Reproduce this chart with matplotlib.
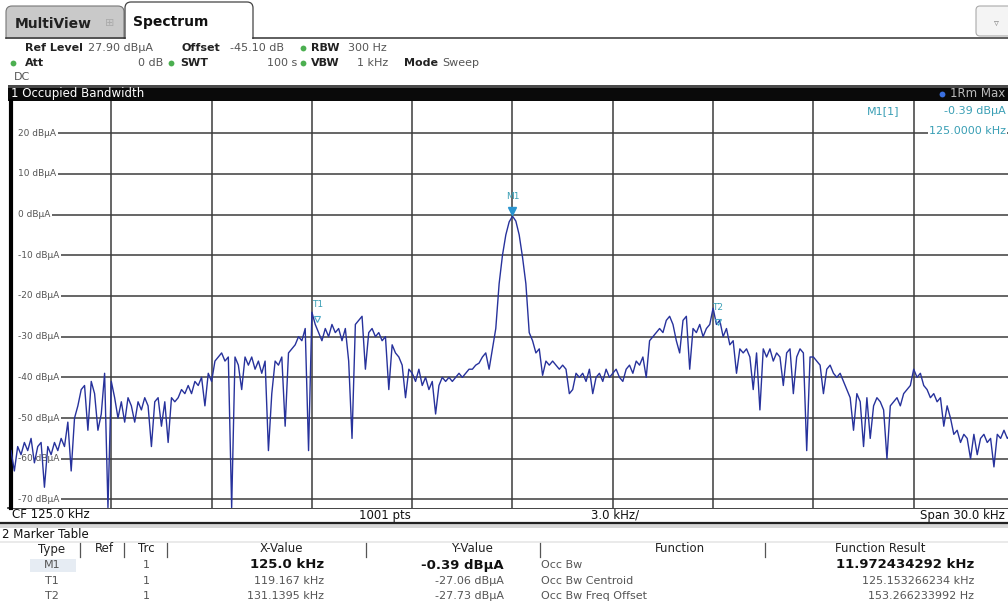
import numpy as np
import matplotlib
matplotlib.use("Agg")
import matplotlib.pyplot as plt
from matplotlib.patches import Rectangle, FancyBboxPatch
import matplotlib.transforms as mtransforms

# ---------------- data ----------------
center_khz = 125.0
span_khz = 30.0
ref_level = 27.90
n_divs = 10
y_ticks = [20, 10, 0, -10, -20, -30, -40, -50, -60, -70]

trace_dbua = [
    -58, -63, -57, -59, -56, -58, -55, -61, -57, -56,
    -67, -57, -59, -56, -58, -55, -57, -51, -63, -50,
    -47, -43, -42, -53, -41, -44, -53, -49, -39, -72,
    -41, -45, -50, -46, -51, -45, -47, -51, -46, -48,
    -45, -47, -57, -46, -45, -52, -46, -56, -45, -46,
    -45, -43, -44, -42, -44, -41, -42, -40, -47, -39,
    -41, -36, -35, -34, -36, -35, -72, -35, -37, -43,
    -35, -37, -35, -38, -36, -39, -36, -58, -44, -36,
    -37, -35, -52, -34, -33, -32, -30, -31, -28, -58,
    -24, -27, -29, -31, -28, -30, -27, -29, -28, -31,
    -28, -36, -55, -27, -26, -25, -38, -29, -28, -30,
    -29, -31, -30, -43, -32, -34, -35, -37, -45, -38,
    -39, -41, -38, -42, -40, -43, -41, -49, -42, -40,
    -41, -40, -41, -40, -39, -40, -39, -38, -38, -37,
    -36.5, -35, -34, -38, -33, -28, -17, -10, -5, -1.8,
    -0.39, -1.6, -5, -10.5, -17, -29, -31, -34, -33, -39.5,
    -36, -37, -36, -37, -38, -37, -38, -44, -43, -39,
    -40, -39, -41, -38, -44, -40, -39, -41, -38, -40,
    -39, -38, -40, -41, -38, -37, -39, -36, -37, -35,
    -40, -31, -30, -29, -28, -29, -26, -25, -27, -31,
    -34, -26, -25, -38, -28, -29, -27, -30, -28, -27,
    -23, -27, -26, -30, -28, -32, -31, -39, -33, -34,
    -33, -35, -43, -34, -48, -33, -35, -33, -36, -34,
    -35, -42, -34, -33, -44, -35, -33, -34, -58, -35,
    -35, -36, -37, -44, -38, -37, -39, -40, -39, -41,
    -43, -45, -53, -44, -46, -57, -45, -55, -47, -45,
    -46, -48, -60, -47, -46, -45, -47, -44, -43, -42,
    -38, -40, -39, -42, -43, -45, -44, -46, -45, -52,
    -47, -50, -54, -53, -56, -54, -55, -60, -54, -59,
    -55, -54, -56, -55, -62, -54, -55, -53, -55, -54, -55,
]

marker_names = ["M1", "T1", "T2"]
marker_freq_khz = [125.0, 119.167, 131.1395]
marker_level = [-0.39, -27.06, -27.73]

table_type = ["M1", "T1", "T2"]
table_trc = ["1", "1", "1"]
table_x = ["125.0 kHz", "119.167 kHz", "131.1395 kHz"]
table_y = ["-0.39 dBµA", "-27.06 dBµA", "-27.73 dBµA"]
table_func = ["Occ Bw", "Occ Bw Centroid", "Occ Bw Freq Offset"]
table_result = ["11.972434292 kHz", "125.153266234 kHz", "153.266233992 Hz"]

# ---------------- figure ----------------
W, H = 1008, 604
fig = plt.figure(figsize=(W / 100, H / 100), dpi=100)
fig.patch.set_facecolor("white")

# overlay axes in pixel coordinates for the instrument chrome
ov = fig.add_axes([0, 0, 1, 1])
ov.set_xlim(0, W)
ov.set_ylim(H, 0)
ov.axis("off")

FS = 8
GRAY = "#555555"
GREEN = "#4caf50"
TEAL = "#3a9fb5"

# tabs
ov.add_patch(FancyBboxPatch((6, 6), 118, 40, boxstyle="round,pad=0,rounding_size=6",
                            fc="#c9c9c9", ec="#777777", lw=0.8))
ov.add_patch(FancyBboxPatch((125, 2), 128, 44, boxstyle="round,pad=0,rounding_size=6",
                            fc="white", ec="#444444", lw=0.9))
ov.add_patch(Rectangle((0, 38.6), W, 20, fc="white", ec="none"))
ov.plot([6, 125], [38, 38], color="#333333", lw=1.1)
ov.plot([253, W], [38, 38], color="#333333", lw=1.1)
ov.text(15, 24, "MultiView", fontsize=10, fontweight="bold", color="#222222", va="center")
ov.text(110, 23, "⊞", fontsize=8, color="#aaaaaa", va="center", ha="center")
ov.text(133, 22, "Spectrum", fontsize=10, fontweight="bold", color="#111111", va="center")
ov.add_patch(FancyBboxPatch((976, 6), 40, 30, boxstyle="round,pad=0,rounding_size=4",
                            fc="#f4f4f4", ec="#aaaaaa", lw=0.8))
ov.text(996, 23, "▿", fontsize=7, color="#888888", ha="center", va="center")

# info rows
def lbl(x, y, s, bold=False, color="#222222", ha="left", size=FS):
    ov.text(x, y, s, fontsize=size, fontweight="bold" if bold else "normal",
            color=color, ha=ha, va="center")

def dot(x, y, c=GREEN):
    ov.plot([x], [y], marker="o", ms=4.2, color=c, mec="none")

lbl(25, 48, "Ref Level", bold=True)
lbl(88, 48, "27.90 dBµA", color=GRAY)
lbl(182, 48, "Offset", bold=True)
lbl(230, 48, "-45.10 dB", color=GRAY)
dot(303, 48)
lbl(311, 48, "RBW", bold=True)
lbl(348, 48, "300 Hz", color=GRAY)
dot(13, 63)
lbl(25, 63, "Att", bold=True)
lbl(163, 63, "0 dB", color=GRAY, ha="right")
dot(171, 63)
lbl(180, 63, "SWT", bold=True)
lbl(297, 63, "100 s", color=GRAY, ha="right")
dot(303, 63)
lbl(311, 63, "VBW", bold=True)
lbl(357, 63, "1 kHz", color=GRAY)
lbl(404, 63, "Mode", bold=True)
lbl(442, 63, "Sweep", color=GRAY)
lbl(14, 77, "DC", color=GRAY)

# black title bar
ov.add_patch(Rectangle((8, 85), W, 16, fc="#0a0a0a", ec="none"))
ov.add_patch(Rectangle((8, 85), W, 3, fc="#4a4a4a", ec="none"))
lbl(11, 93.5, "1 Occupied Bandwidth", color="white", size=8.5)
dot(942, 93.5, c="#3a6fe0")
lbl(1005, 93.5, "1Rm Max", color="#bbbbbb", ha="right", size=8.5)

# bottom status bar
ov.plot([8, W], [508, 508], color="#222222", lw=1.2)
ov.plot([0, W], [522.5, 522.5], color="#222222", lw=1.6)
ov.add_patch(Rectangle((0, 523.5), W, 4, fc="#d8d8d8", ec="none"))
lbl(12, 515, "CF 125.0 kHz", color="#111111", size=8.5)
lbl(385, 515, "1001 pts", color="#111111", size=8.5, ha="center")
lbl(615, 515, "3.0 kHz/", color="#111111", size=8.5, ha="center")
lbl(1005, 515, "Span 30.0 kHz", color="#111111", size=8.5, ha="right")

# marker table
lbl(2, 534, "2 Marker Table", color="#111111", size=8.5)
ov.plot([0, W], [541.5, 541.5], color="#e6e6e6", lw=1.2)
hy = 549
lbl(52, hy, "Type", color="#222222", size=8.5, ha="center")
lbl(104, hy, "Ref", color="#222222", size=8.5, ha="center")
lbl(146, hy, "Trc", color="#222222", size=8.5, ha="center")
lbl(281, hy, "X-Value", color="#222222", size=8.5, ha="center")
lbl(472, hy, "Y-Value", color="#222222", size=8.5, ha="center")
lbl(680, hy, "Function", color="#222222", size=8.5, ha="center")
lbl(880, hy, "Function Result", color="#222222", size=8.5, ha="center")
for sx in [80, 124, 167, 366, 540, 765]:
    ov.plot([sx, sx], [543, 557], color="#555555", lw=0.9)
ov.add_patch(Rectangle((30, 558.5), 46, 13, fc="#e6ecf3", ec="none"))
row_y = [565, 581, 596]
for i in range(3):
    bold = i == 0
    col = "#111111" if bold else GRAY
    y = row_y[i]
    lbl(52, y, table_type[i], color=GRAY, ha="center")
    lbl(146, y, table_trc[i], color=GRAY, ha="center")
    lbl(324, y, table_x[i], color=col, ha="right", bold=bold, size=9.5 if bold else FS)
    lbl(504, y, table_y[i], color=col, ha="right", bold=bold, size=9.5 if bold else FS)
    lbl(541, y, table_func[i], color=GRAY)
    lbl(974, y, table_result[i], color=col, ha="right", bold=bold, size=9.5 if bold else FS)

# ---------------- spectrum axes ----------------
x_left, x_right = 11, 1014
y_top, y_bot = 101, 508
ax = fig.add_axes([x_left / W, (H - y_bot) / H, (x_right - x_left) / W, (y_bot - y_top) / H])
fmin, fmax = center_khz - span_khz / 2, center_khz + span_khz / 2
ax.set_xlim(fmin, fmax)
ax.set_ylim(ref_level - 100, ref_level)
ax.set_facecolor("white")
freqs = np.linspace(fmin, fmax, len(trace_dbua))
ax.set_xticks(np.linspace(fmin, fmax, n_divs + 1))
ax.set_yticks(y_ticks)
ax.tick_params(length=0, labelbottom=False, labelleft=False)
ax.set_axisbelow(True)
ax.grid(True, color="#3c3c3c", lw=1.1)
for s in ["top", "right"]:
    ax.spines[s].set_visible(False)
ax.spines["bottom"].set_visible(False)
ax.spines["left"].set_color("#000000")
ax.spines["left"].set_linewidth(3)

ytrans = mtransforms.blended_transform_factory(ax.transAxes, ax.transData)
for v in y_ticks:
    ax.text(0.007, v, f"{v} dBµA", transform=ytrans, fontsize=6.5, color=GRAY,
            va="center", ha="left", zorder=2.5,
            bbox=dict(fc="white", ec="none", pad=1.2))
# white strip left of labels (the grid starts after the label)
ax.axvspan(fmin, fmin + 0.2, color="white", zorder=1)

ax.plot(freqs, trace_dbua, color="#27329c", lw=1.0, zorder=3)

# markers
up4 = mtransforms.offset_copy(ax.transData, fig=fig, x=0, y=4, units="points")
for name, f, lv in zip(marker_names, marker_freq_khz, marker_level):
    if name == "M1":
        ax.plot([f], [lv], marker="v", ms=6, color="#2a95d0", mec="#2a95d0",
                transform=up4, zorder=5)
    else:
        ax.plot([f], [lv], marker="v", ms=5, mfc="none", mec="#4aa8c8", mew=0.8,
                transform=up4, zorder=5)
    ax.annotate(name, (f, lv), xytext=(0, 11), textcoords="offset points",
                fontsize=6.5, color=TEAL, ha="center", va="bottom", zorder=5)

# marker info box (right-aligned near the visible edge)
ax.text(0.853, 0.975, "M1[1]", transform=ax.transAxes, fontsize=8, color=TEAL,
        ha="left", va="center", zorder=6)
ax.text(0.992, 0.975, f"{marker_level[0]:.2f} dBµA", transform=ax.transAxes, fontsize=8,
        color=TEAL, ha="right", va="center", zorder=6,
        bbox=dict(fc="white", ec="none", pad=0.5))
ax.text(0.992, 0.926, f"{marker_freq_khz[0]:.4f} kHz", transform=ax.transAxes, fontsize=8,
        color=TEAL, ha="right", va="center", zorder=6,
        bbox=dict(fc="white", ec="none", pad=0.5))

fig.savefig("out.png", dpi=100)
